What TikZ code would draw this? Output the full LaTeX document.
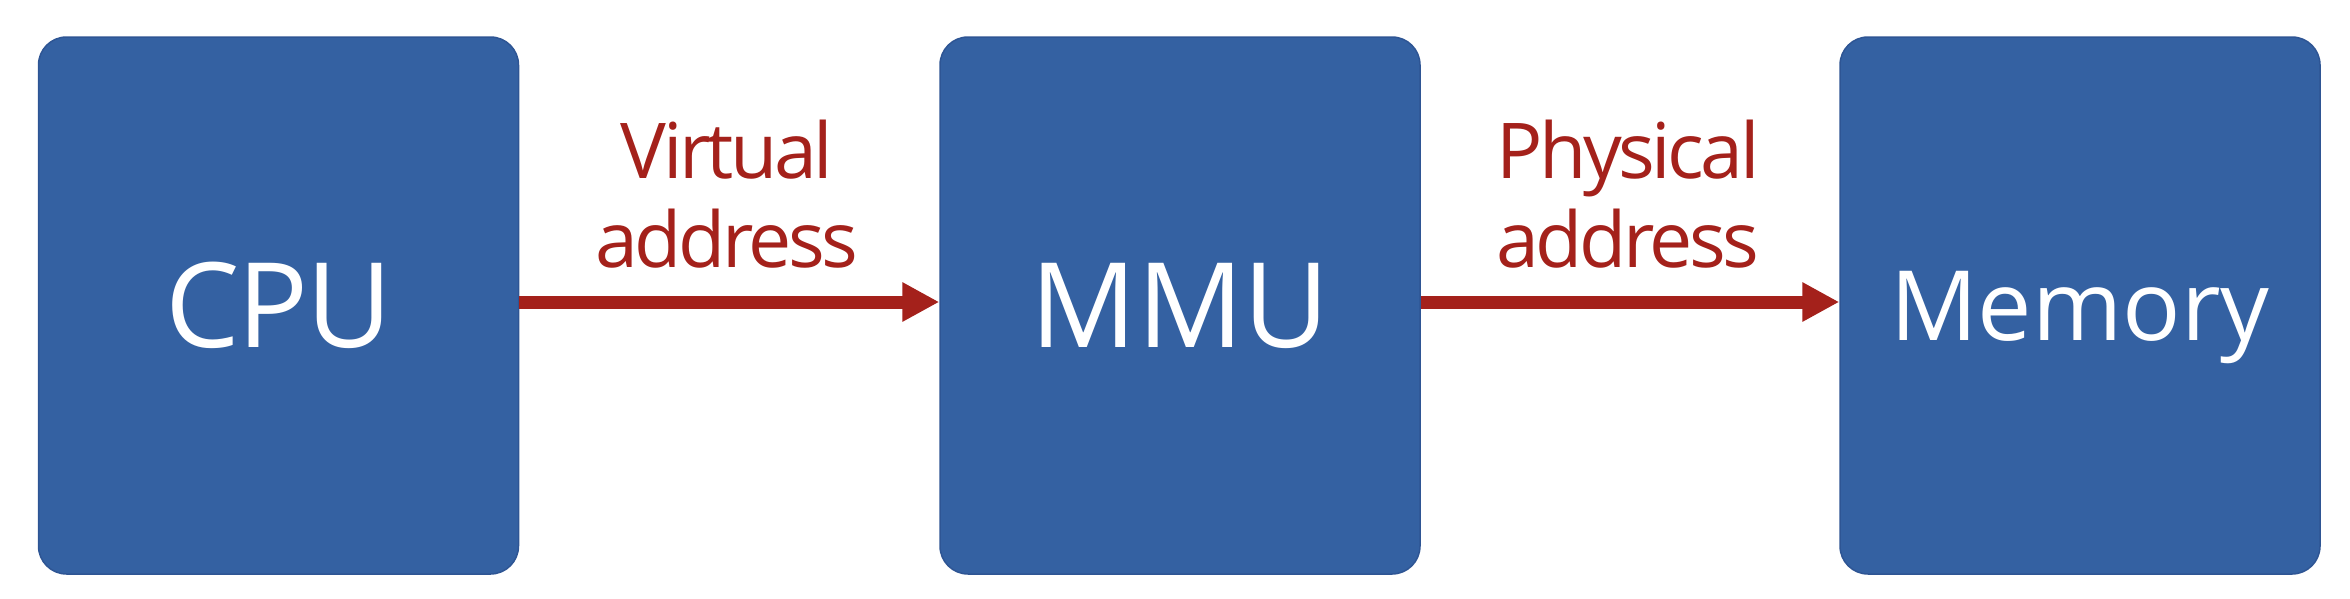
\documentclass[tikz,border=0pt]{standalone}
\usepackage{fontspec}
\setmainfont{Open Sans}
\newfontfamily\lblfont[LetterSpace=-4.5]{Open Sans}
\newfontfamily\cpufont[LetterSpace=-2]{Open Sans}
\usetikzlibrary{arrows.meta}
\definecolor{boxblue}{HTML}{3461A2}
\definecolor{boxedge}{HTML}{2E5594}
\definecolor{arrred}{HTML}{A4211B}
\tikzset{
  unit/.style={draw=boxedge, line width=1.5pt, fill=boxblue, rounded corners=28pt,
    minimum width=480pt, minimum height=537pt, inner sep=0pt,
    text=white, text depth=0pt},
  lbl/.style={text=arrred, anchor=base, inner sep=0pt, font=\lblfont\fontsize{77}{90}\selectfont},
  flow/.style={draw=arrred, line width=13pt, -{Triangle[length=37pt,width=37pt]}}
}
\begin{document}
\begin{tikzpicture}[x=1pt,y=-1pt]
\useasboundingbox (0,0) rectangle (2350,598);
\node[unit, text height=84pt, font=\cpufont\fontsize{118}{130}\selectfont] (cpu) at (278.5,305.5) {CPU};
\node[unit, text height=84pt, font=\fontsize{118}{130}\selectfont] (mmu) at (1180,305.5) {MMU};
\node[unit, text height=69pt, font=\fontsize{97}{110}\selectfont] (mem) at (2080,305.5) {Memory};
\node[lbl] (v1) at (727,178) {Virtual};
\node[lbl] (v2) at (727,267) {address};
\node[lbl] (p1) at (1628,178) {Physical};
\node[lbl] (p2) at (1628,267) {address};
\draw[flow] ([yshift=3.5pt]cpu.east) -- ([yshift=3.5pt]mmu.west);
\draw[flow] ([yshift=3.5pt]mmu.east) -- ([yshift=3.5pt]mem.west);
\end{tikzpicture}
\end{document}
